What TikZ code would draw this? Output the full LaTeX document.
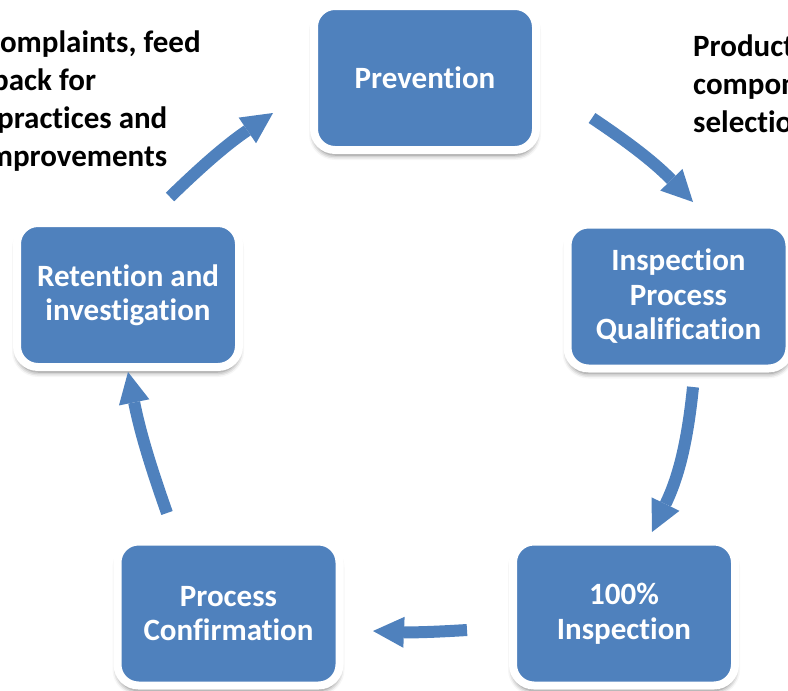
\documentclass[tikz,border=0pt]{standalone}
\usepackage{fontspec}
\setmainfont{Carlito}[Ligatures=NoCommon]
\usetikzlibrary{arrows.meta,shadows.blur}
\definecolor{boxblue}{HTML}{4F81BD}
\begin{document}
\begin{tikzpicture}[x=1pt,y=1pt,
  stage/.style={rounded corners=21pt, fill=boxblue, draw=white, line width=8pt,
    minimum width=222pt, minimum height=144pt, inner sep=0pt, align=center,
    text=white, font=\fontsize{31}{34.5}\selectfont\bfseries,
    blur shadow={shadow xshift=0pt, shadow yshift=-5pt,
      shadow blur radius=5pt, shadow opacity=55}},
  note/.style={anchor=base west, inner sep=0pt,
    font=\fontsize{31}{38}\selectfont\bfseries, text=black},
  flow/.style={draw=boxblue, line width=12pt,
    -{Triangle[width=31pt,length=31pt,line width=0pt]}}
]
\useasboundingbox (0,0) rectangle (788,-691);
\clip (0,0) rectangle (788,-691);

% stages of the cycle
\node[stage] (prev) at (425,-78)    {Prevention};
\node[stage] (ipq)  at (678.5,-296.5) {Inspection\\Process\\Qualification};
\node[stage] (full) at (624,-613.5)  {100\%\\Inspection};
\node[stage] (conf) at (228.5,-613.5) {Process\\Confirmation};
\node[stage] (ret)  at (128,-295)    {Retention and\\investigation};

% side notes
\node[note] (fb1) at (-13,-52)  {complaints, feed};
\node[note] (fb2) at (-8,-90)   {back for};
\node[note] (fb3) at (-3,-128)  {practices and};
\node[note] (fb4) at (-20,-166) {improvements};
\node[note] (sel1) at (693,-56)  {Product and};
\node[note] (sel2) at (693,-94)  {component};
\node[note] (sel3) at (693,-132) {selection};

% ends of the cycle arrows
\coordinate (a1s) at (170,-197); \coordinate (a1e) at (273,-113);
\coordinate (a2s) at (592,-118); \coordinate (a2e) at (693,-202);
\coordinate (a3s) at (693,-387); \coordinate (a3e) at (652,-532);
\coordinate (a4s) at (467,-630); \coordinate (a4e) at (373,-631);
\coordinate (a5s) at (167,-513); \coordinate (a5e) at (128,-372);

\draw[flow] (a1s) to[bend left=5]  (a1e);
\draw[flow] (a2s) to[bend left=6]  (a2e);
\draw[flow] (a3s) to[bend left=10] (a3e);
\draw[flow] (a4s) to[bend left=3]  (a4e);
\draw[flow] (a5s) to[bend left=4]  (a5e);
\end{tikzpicture}
\end{document}
